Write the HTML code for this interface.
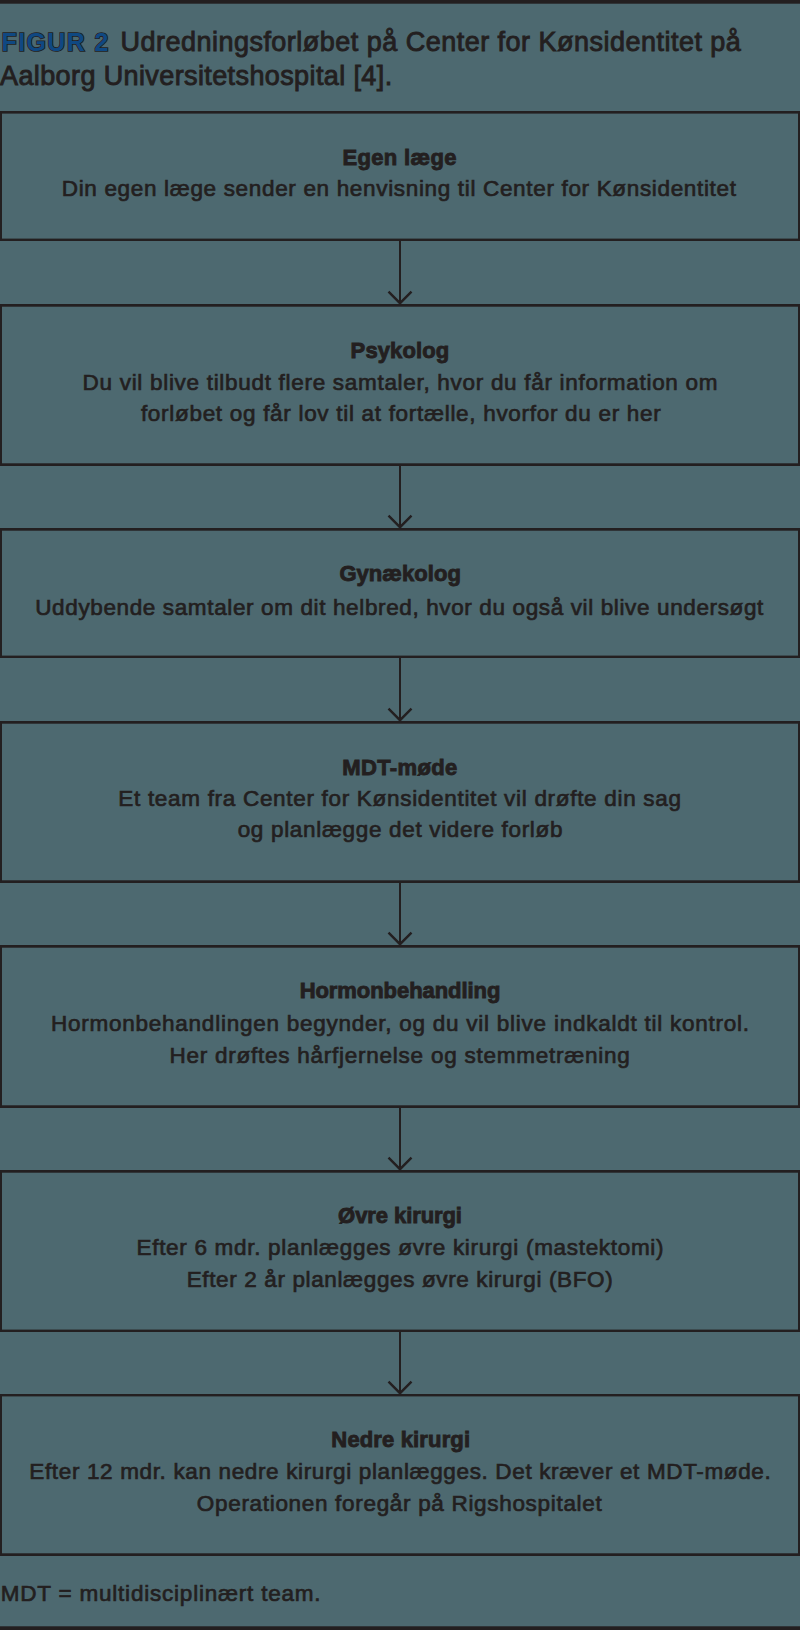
<!DOCTYPE html>
<html lang="da">
<head>
<meta charset="utf-8">
<title>Figur 2</title>
<style>

html,body{margin:0;padding:0;}
body{width:800px;height:1630px;overflow:hidden;position:relative;background:#4d6970;font-family:"Liberation Sans",sans-serif;color:#231f20;}
.bar{position:absolute;left:0;width:800px;background:#231f20;}
.t{position:absolute;left:0;white-space:nowrap;line-height:32px;}
.c{width:800px;text-align:center;}
.h{font-size:22px;font-weight:700;-webkit-text-stroke:0.9px #231f20;}
.b{font-size:22.5px;-webkit-text-stroke:0.7px #231f20;}
.ti{font-size:27px;line-height:34px;-webkit-text-stroke:0.9px #231f20;}
.fig{paint-order:stroke fill;font-weight:700;font-size:25px;color:#0f4882;-webkit-text-stroke:1.6px #231f20;letter-spacing:1.4px;}
svg{position:absolute;left:0;top:0;}

</style>
</head>
<body>
<div class="t ti fig" style="top:25px;left:1.5px">FIGUR 2</div>
<div class="t ti" style="top:25px;left:120.5px;letter-spacing:0.48px">Udredningsforløbet på Center for Kønsidentitet på</div>
<div class="t ti" style="top:59px;left:0px;letter-spacing:0.39px">Aalborg Universitetshospital [4].</div>
<svg width="800" height="1630" viewBox="0 0 800 1630"><g fill="#231f20"><rect x="0" y="0" width="800" height="3.7"/><rect x="0" y="1626.3" width="800" height="3.7000000000000455"/><rect x="0" y="111" width="800" height="2.6"/><rect x="0" y="238.6" width="800" height="2.4"/><rect x="0" y="111" width="2" height="130"/><rect x="798" y="111" width="2" height="130"/><rect x="0" y="304" width="800" height="2.7"/><rect x="0" y="463.3" width="800" height="2.7"/><rect x="0" y="304" width="2" height="162"/><rect x="798" y="304" width="2" height="162"/><rect x="0" y="528" width="800" height="2.7"/><rect x="0" y="655.6" width="800" height="2.4"/><rect x="0" y="528" width="2" height="130"/><rect x="798" y="528" width="2" height="130"/><rect x="0" y="721" width="800" height="2.7"/><rect x="0" y="880.3" width="800" height="2.7"/><rect x="0" y="721" width="2" height="162"/><rect x="798" y="721" width="2" height="162"/><rect x="0" y="945" width="800" height="2.7"/><rect x="0" y="1105.3" width="800" height="2.7"/><rect x="0" y="945" width="2" height="163"/><rect x="798" y="945" width="2" height="163"/><rect x="0" y="1170" width="800" height="2.7"/><rect x="0" y="1329.6" width="800" height="2.4"/><rect x="0" y="1170" width="2" height="162"/><rect x="798" y="1170" width="2" height="162"/><rect x="0" y="1394" width="800" height="2.4"/><rect x="0" y="1553.3" width="800" height="2.7"/><rect x="0" y="1394" width="2" height="162"/><rect x="798" y="1394" width="2" height="162"/></g><g fill="none" stroke="#231f20" stroke-width="2"><path d="M400 241V304"/><path d="M388.5 291.7L400 303.2L411.5 291.7" stroke-linecap="butt" stroke-width="2.4"/><path d="M400 466V528"/><path d="M388.5 515.7L400 527.2L411.5 515.7" stroke-linecap="butt" stroke-width="2.4"/><path d="M400 658V721"/><path d="M388.5 708.7L400 720.2L411.5 708.7" stroke-linecap="butt" stroke-width="2.4"/><path d="M400 883V945"/><path d="M388.5 932.7L400 944.2L411.5 932.7" stroke-linecap="butt" stroke-width="2.4"/><path d="M400 1108V1170"/><path d="M388.5 1157.7L400 1169.2L411.5 1157.7" stroke-linecap="butt" stroke-width="2.4"/><path d="M400 1332V1394"/><path d="M388.5 1381.7L400 1393.2L411.5 1381.7" stroke-linecap="butt" stroke-width="2.4"/></g></svg>
<div class="t c h" style="top:142px;left:-0.4px;letter-spacing:0.345px">Egen læge</div>
<div class="t c b" style="top:173px;left:-0.8px;letter-spacing:0.667px">Din egen læge sender en henvisning til Center for Kønsidentitet</div>
<div class="t c h" style="top:335px;left:0.0px;letter-spacing:0.12px">Psykolog</div>
<div class="t c b" style="top:367px;left:0.4px;letter-spacing:0.7px">Du vil blive tilbudt flere samtaler, hvor du får information om</div>
<div class="t c b" style="top:398px;left:1.2px;letter-spacing:0.7px">forløbet og får lov til at fortælle, hvorfor du er her</div>
<div class="t c h" style="top:558px;left:0.2px;letter-spacing:0.058px">Gynækolog</div>
<div class="t c b" style="top:592px;left:-0.4px;letter-spacing:0.629px">Uddybende samtaler om dit helbred, hvor du også vil blive undersøgt</div>
<div class="t c h" style="top:752px;left:0.0px;letter-spacing:0.38px">MDT-møde</div>
<div class="t c b" style="top:783px;left:0.0px;letter-spacing:0.693px">Et team fra Center for Kønsidentitet vil drøfte din sag</div>
<div class="t c b" style="top:814px;left:0.4px;letter-spacing:0.673px">og planlægge det videre forløb</div>
<div class="t c h" style="top:975px;left:0.0px;letter-spacing:-0.06px">Hormonbehandling</div>
<div class="t c b" style="top:1008px;left:0.4px;letter-spacing:0.751px">Hormonbehandlingen begynder, og du vil blive indkaldt til kontrol.</div>
<div class="t c b" style="top:1040px;left:0.0px;letter-spacing:0.751px">Her drøftes hårfjernelse og stemmetræning</div>
<div class="t c h" style="top:1200px;left:0.0px;letter-spacing:-0.076px">Øvre kirurgi</div>
<div class="t c b" style="top:1232px;left:0.4px;letter-spacing:0.69px">Efter 6 mdr. planlægges øvre kirurgi (mastektomi)</div>
<div class="t c b" style="top:1264px;left:0.0px;letter-spacing:0.63px">Efter 2 år planlægges øvre kirurgi (BFO)</div>
<div class="t c h" style="top:1424px;left:0.8px;letter-spacing:0.15px">Nedre kirurgi</div>
<div class="t c b" style="top:1456px;left:0.4px;letter-spacing:0.643px">Efter 12 mdr. kan nedre kirurgi planlægges. Det kræver et MDT-møde.</div>
<div class="t c b" style="top:1488px;left:-0.4px;letter-spacing:0.685px">Operationen foregår på Rigshospitalet</div>
<div class="t b" style="top:1578px;left:0.8px;letter-spacing:0.784px">MDT = multidisciplinært team.</div>
</body>
</html>
